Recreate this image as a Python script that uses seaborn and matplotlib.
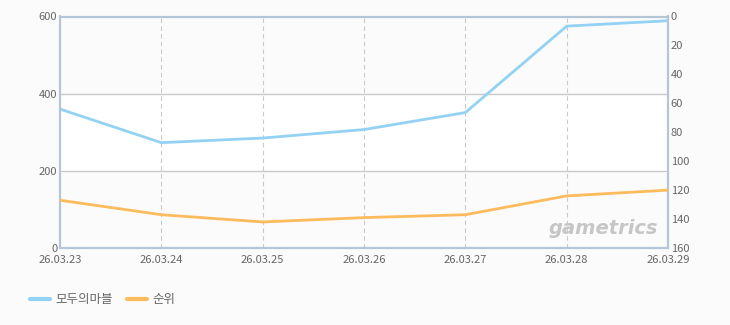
import matplotlib
matplotlib.use("Agg")
import matplotlib.pyplot as plt
import seaborn as sns
import pandas as pd
from matplotlib.lines import Line2D

dates = ["26.03.23", "26.03.24", "26.03.25", "26.03.26", "26.03.27", "26.03.28", "26.03.29"]
series_value = [360, 273, 285, 307, 351, 575, 589]
rank_value = [127, 137, 142, 139, 137, 124, 120]
left_ticks = [0, 200, 400, 600]
right_ticks = [0, 20, 40, 60, 80, 100, 120, 140, 160]
name_value = "모두의마블"
name_rank = "순위"

sns.set_theme(style="white")
plt.rcParams['font.family'] = ['Noto Sans CJK KR', 'DejaVu Sans']

blue = "#93d2f3"
orange = "#fcbb5c"
spine_c = "#b4c5d8"
grid_c = "#c9c9c9"
text_c = "#666666"

df = pd.DataFrame({"x": range(len(dates)), "v": series_value, "r": rank_value})

fig = plt.figure(figsize=(7.3, 3.25), dpi=100, facecolor="#fbfbfb")
ax = fig.add_axes([60/730, 77/325, 608/730, 231.5/325])
ax.set_facecolor("white")
ax.axhspan(0, 200, color="#fbfbfb", zorder=0, lw=0)
ax.axhspan(400, 600, color="#fbfbfb", zorder=0, lw=0)

ax2 = ax.twinx()

sns.lineplot(data=df, x="x", y="v", ax=ax, color=blue, lw=2, zorder=5)
sns.lineplot(data=df, x="x", y="r", ax=ax2, color=orange, lw=2, zorder=5)

ax.set_xlim(0, len(dates) - 1)
ax.set_ylim(0, 600)
ax2.set_ylim(160, 0)
ax.set_xticks(range(len(dates)))
ax.set_xticklabels(dates)
ax.set_yticks(left_ticks)
ax2.set_yticks(right_ticks)
ax.set_xlabel("")
ax.set_ylabel("")
ax2.set_ylabel("")

for y in [200, 400]:
    ax.axhline(y, color=grid_c, lw=1, zorder=1)
for i in range(1, len(dates) - 1):
    ax.axvline(i, color=grid_c, lw=0.8, ls=(0, (4, 3)), zorder=1)

for a in (ax, ax2):
    for s in a.spines.values():
        s.set_color(spine_c)
        s.set_linewidth(1.5)
    a.tick_params(length=0, labelsize=8, colors=text_c, pad=2)
ax.tick_params(axis="x", pad=5)

ax.text(0.984, 0.045, "gametrics", transform=ax.transAxes, ha="right", va="bottom",
        fontsize=14, fontweight="bold", style="italic", color="#c6c6c6",
        family=["DejaVu Sans"], zorder=3)

handles = [Line2D([0], [0], color=blue, lw=3), Line2D([0], [0], color=orange, lw=3)]
fig.legend(handles, [name_value, name_rank], loc="center left", bbox_to_anchor=(0.041, 0.077),
           ncol=2, frameon=False, fontsize=9, handlelength=1.6, handletextpad=0.4,
           columnspacing=1.2, labelcolor=text_c, borderpad=0, borderaxespad=0)

fig.savefig("out.png", dpi=100, facecolor=fig.get_facecolor())
